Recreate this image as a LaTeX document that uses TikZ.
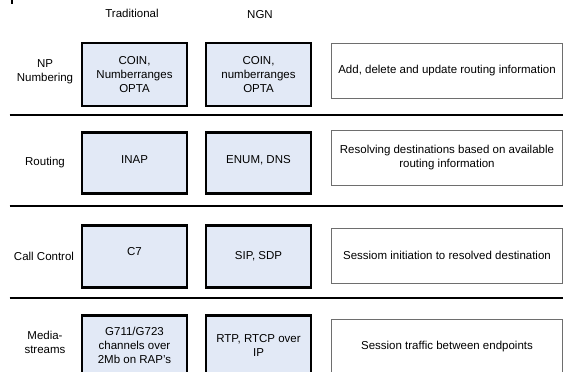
\documentclass[tikz,border=0pt]{standalone}
\usepackage{fontspec}
\setmainfont{Liberation Sans}
\definecolor{boxfill}{RGB}{226,233,246}
\definecolor{descline}{RGB}{110,110,110}
\tikzset{
  techbox/.style={draw=black,line width=2.6pt,fill=boxfill,minimum width=105pt,align=center,inner sep=0pt},
  descbox/.style={draw=descline,line width=1pt,fill=white,minimum width=231pt,minimum height=55pt,align=center,inner sep=0pt},
  rowlabel/.style={align=center,inner sep=0pt},
  sepline/.style={line width=2.8pt,black}
}
\begin{document}
\begin{tikzpicture}[x=1pt,y=-1pt,font=\fontsize{11.5}{14}\selectfont]
    \useasboundingbox (0,0) rectangle (563,372);
    \begin{scope}
      \clip (0,0) rectangle (563,372);
      % column heads
      \node[rowlabel] (headtrad) at (132,13) {Traditional};
      \node[rowlabel] (headngn) at (260,15) {NGN};
      \draw[line width=1.5pt] (12,0)--(12,3.5);
      % separators
      \foreach\y in {115,206,298}
      \draw[sepline] (9.5,\y)--(563,\y);
      % NP numbering
      \node[rowlabel] (lab1) at (45,72) {NP\\Numbering};
      \node[techbox,minimum height=63pt] (trad1) at (134.5,74.5) {COIN,\\Numberranges\\OPTA};
      \node[techbox,minimum height=63pt] (ngn1) at (258.5,74.5) {COIN,\\numberranges\\OPTA};
      \node[descbox] (desc1) at (447,70.5) {Add, delete and update routing information};
      % routing
      \node[rowlabel] (lab2) at (45,163) {Routing};
      \node[techbox,minimum height=61pt,anchor=north] (trad2) at (134.5,131) {};
      \node (inap) at (134.5,160) {INAP};
      \node[techbox,minimum height=61pt,anchor=north] (ngn2) at (258.5,131) {};
      \node (enum) at (258.5,160) {ENUM, DNS};
      \node[descbox] (desc2) at (447,157.5) {Resolving destinations based on available\\routing information};
      % call control
      \node[rowlabel] (lab3) at (44,256) {Call Control};
      \node[techbox,minimum height=62pt,anchor=north] (trad3) at (134.5,224) {};
      \node (c7) at (134.5,252) {C7};
      \node[techbox,minimum height=62pt,anchor=north] (ngn3) at (258.5,224) {};
      \node (sip) at (258.5,256) {SIP, SDP};
      \node[descbox] (desc3) at (447,255.5) {Sessiom initiation to resolved destination};
      % media streams
      \node[rowlabel] (lab4) at (45,342) {Media-\\streams};
      \node[techbox,minimum height=64pt,anchor=north] (trad4) at (134.5,314) {};
      \node[align=center] (g711) at (134.5,345) {G711/G723\\channels over\\2Mb on RAP's};
      \node[techbox,minimum height=64pt,anchor=north] (ngn4) at (258.5,314) {};
      \node[align=center] (rtp) at (258.5,345) {RTP, RTCP over\\IP};
      \node[descbox] (desc4) at (447,346.5) {Session traffic between endpoints};
    \end{scope}
  \end{tikzpicture}
\end{document}
